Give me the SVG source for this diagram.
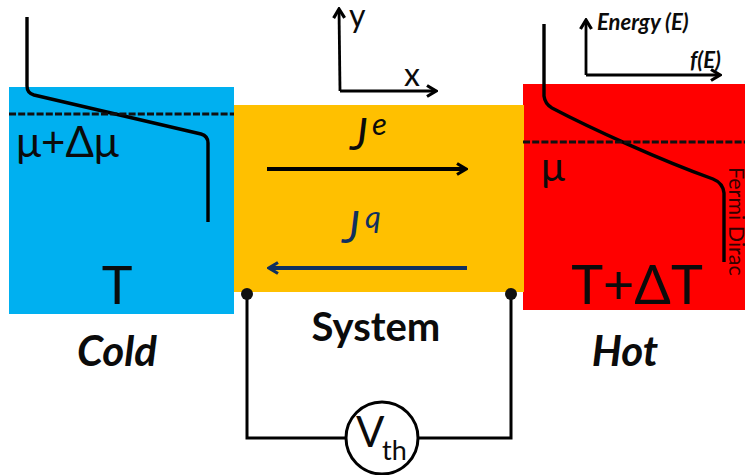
<svg xmlns="http://www.w3.org/2000/svg" width="745" height="475" viewBox="0 0 745 475">
<defs>
<marker id="ah" viewBox="0 0 14 14" refX="12" refY="7" markerWidth="14" markerHeight="14" markerUnits="userSpaceOnUse" orient="auto-start-reverse"><path d="M3 1.500L12 7L3 12.500" fill="none" stroke="context-stroke" stroke-width="3.200"/></marker>
</defs>
<style>
text{font-family:Lato,"Open Sans","Liberation Sans",sans-serif;fill:#0b0b0b}
.ln{fill:none;stroke:#000;stroke-width:3}
.fd{fill:none;stroke:#000;stroke-width:3.400;stroke-linejoin:round}
.dash{fill:none;stroke:#111;stroke-width:3;stroke-dasharray:7 2.200}
.ax{fill:none;stroke:#000;stroke-width:2.800;marker-end:url(#ah)}
.b{font-weight:700}
.bi{font-weight:700;font-style:italic}
</style>
<g id="cold"><rect x="9" y="87" width="225" height="227" fill="#00b0f0"/></g>
<g id="hot"><rect x="523" y="84" width="222" height="226" fill="#ff0000"/></g>
<g id="system"><rect x="234" y="105" width="290" height="187" fill="#ffc000"/></g>
<g id="connectors">
<path class="fd" d="M27 17V86Q27 93 34 95L201 134Q208 136 208 143V222"/>
<path class="dash" d="M9 114H234"/>
<path class="fd" d="M544 24V96Q545 104 552 108C590 128 660 160 713 179Q723 183 724 193V262"/>
<path class="dash" d="M523 142H745"/>
<path class="ax" d="M340 91L339 9"/>
<path class="ax" d="M340 91H436"/>
<path class="ax" d="M586 75V20"/>
<path class="ax" d="M586 75H720"/>
<path d="M267 169H466" fill="none" stroke="#000" stroke-width="4" marker-end="url(#ah)"/>
<path d="M467 268H269" fill="none" stroke="#10305f" stroke-width="4" marker-end="url(#ah)"/>
<path class="ln" d="M247 294V438H345M419 438H511V294"/>
<circle cx="247" cy="294" r="6" fill="#111"/>
<circle cx="511" cy="294" r="6" fill="#111"/>
</g>
<g id="voltmeter">
<circle cx="382" cy="438" r="36" fill="#fff" stroke="#000" stroke-width="3"/>
<text x="356" y="447" font-size="42">V</text>
<text x="382" y="460" font-size="27">th</text>
</g>
<text x="16" y="157" font-size="42">μ+Δμ</text>
<text x="541" y="181" font-size="40">μ</text>
<text x="117" y="304" font-size="52" text-anchor="middle">T</text>
<text x="637" y="304" font-size="54" text-anchor="middle">T+ΔT</text>
<text class="bi" x="117" y="366" font-size="42" text-anchor="middle">Cold</text>
<text class="bi" x="625" y="366" font-size="42" text-anchor="middle">Hot</text>
<text class="b" x="376" y="341" font-size="40" text-anchor="middle">System</text>
<text x="349" y="27" font-size="32">y</text>
<text x="404" y="86" font-size="32">x</text>
<text class="bi" x="597" y="30" font-size="22">Energy (E)</text>
<text class="bi" x="690" y="68" font-size="22">f(E)</text>
<text x="350" y="150" font-size="44" font-style="italic">J</text>
<text x="372" y="135" font-size="31" font-style="italic">e</text>
<text x="342" y="243" font-size="44" font-style="italic" style="fill:#10305f">J</text>
<text x="365" y="228" font-size="31" font-style="italic" style="fill:#10305f">q</text>
<text transform="translate(729 167) rotate(90)" font-size="21.500" style="fill:#300">Fermi Dirac</text>
</svg>
